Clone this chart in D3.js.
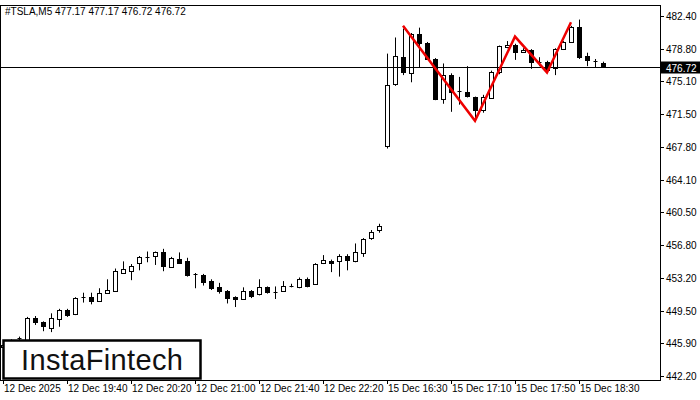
<!DOCTYPE html><html><head><meta charset="utf-8"><script src="https://cdn.jsdelivr.net/npm/d3@7"></script>
<style>body{margin:0;background:#fff}svg{display:block}text{font-family:"Liberation Sans",Arial,sans-serif}</style></head><body><svg id="c" width="700" height="400"></svg>
<script>
const opens =[445.5,445.8,446.3,446.2,448.7,448.2,447.6,448.6,449.6,449.1,450.9,451.0,450.6,451.5,451.7,453.8,453.9,454.8,455.5,455.6,456.0,454.4,455.3,455.0,453.6,453.5,452.8,452.1,451.7,451.0,450.8,451.7,451.3,452.1,451.6,451.7,452.3,452.1,453.0,452.5,454.8,455.0,455.0,455.6,455.0,455.9,457.6,458.4,
467.9,474.8,477.8,476.1,480.4,479.4,477.6,473.1,475.8,474.0,473.9,473.3,472.0,473.3,476.1,479.0,479.2,478.4,478.6,477.3,477.3,476.6,478.7,479.5,481.2,477.9,477.4,477.2];
const closes=[445.7,446.0,446.4,448.7,448.2,447.8,448.7,449.6,449.0,450.9,451.0,450.6,451.5,451.8,453.9,454.2,454.5,455.5,455.5,456.0,454.4,455.4,454.9,453.4,453.5,452.7,452.0,451.6,450.9,450.8,451.7,451.1,452.1,451.5,451.6,452.3,452.3,453.0,452.2,454.7,455.1,454.8,455.6,455.1,456.0,457.5,458.3,458.9,
474.7,477.9,476.1,480.4,479.4,477.6,473.1,475.8,473.9,473.9,473.4,471.9,473.4,476.2,479.0,479.2,478.4,478.6,477.3,477.3,476.4,478.7,479.5,481.2,477.8,477.4,477.3,476.8];
const highs =[445.9,446.3,446.6,448.8,448.9,448.3,449.2,449.7,449.7,451.0,451.5,451.5,452.0,453.0,454.2,455.0,454.7,455.6,456.1,456.1,456.4,455.5,456.0,455.4,453.7,453.6,453.0,452.6,451.8,451.1,452.1,451.8,453.0,452.2,452.2,452.8,452.5,453.2,453.2,454.8,455.7,455.2,455.8,455.8,457.0,457.6,458.5,459.2,
478.2,480.0,481.0,480.5,481.1,479.5,477.7,477.1,476.0,475.6,476.8,473.4,473.6,476.3,479.1,479.6,479.3,478.8,478.7,477.8,477.4,478.8,479.6,481.3,482.0,478.3,477.6,477.3];
const lows  =[445.3,445.5,446.1,446.1,447.9,447.2,447.1,447.7,448.8,449.0,450.4,450.2,450.5,451.4,451.6,453.6,452.9,454.0,454.9,454.6,453.9,454.3,454.8,453.3,452.0,452.3,451.8,451.4,450.3,449.9,450.7,450.9,451.2,451.4,450.8,451.6,452.1,452.0,452.1,452.4,454.7,453.8,453.3,454.0,454.9,455.5,457.4,458.2,
467.6,474.6,475.8,475.0,476.6,477.5,473.0,472.6,471.7,472.5,473.3,471.0,471.6,473.2,475.9,478.8,477.5,478.3,476.5,476.8,476.2,475.8,478.6,479.4,477.6,476.8,476.6,476.6];
const patternIdx=[50,59,64,68,71];
const patternPrice=[481.3,470.7,480.1,476.1,481.7];
const yTicks=["482.40","478.80","475.10","471.50","467.80","464.10","460.50","456.80","453.20","449.50","445.90","442.20"];
const xLabels=["12 Dec 2025","12 Dec 19:40","12 Dec 20:20","12 Dec 21:00","12 Dec 21:40","12 Dec 22:20","15 Dec 16:30","15 Dec 17:10","15 Dec 17:50","15 Dec 18:30"];
const lastPrice=476.72, title="#TSLA,M5  477.17 477.17 476.72 476.72";

const svg=d3.select("#c");
const x=d3.scaleLinear().domain([0,82]).range([3,659]);
const y=d3.scaleLinear().domain([442.2,482.4]).range([376,16]);
const g=svg.append("g");
svg.append("rect").attr("x",0.5).attr("y",5.5).attr("width",660).attr("height",375).attr("fill","none").attr("stroke","#000");
yTicks.forEach((t,i)=>{const yy=16+i*(360/11);
 svg.append("line").attr("x1",660).attr("x2",664).attr("y1",Math.round(yy)+.5).attr("y2",Math.round(yy)+.5).attr("stroke","#000");
 svg.append("text").attr("x",666).attr("y",yy+4).attr("font-size",10).text(t);});
xLabels.forEach((t,i)=>{const xx=x(i*8);
 svg.append("line").attr("x1",Math.round(xx)+.5).attr("x2",Math.round(xx)+.5).attr("y1",380).attr("y2",384).attr("stroke","#000");
 svg.append("text").attr("x",xx+1).attr("y",392).attr("font-size",10).text(t);});
const ly=Math.round(y(lastPrice))+.5;
svg.append("line").attr("x1",0).attr("x2",660).attr("y1",ly).attr("y2",ly).attr("stroke","#000");
opens.forEach((o,i)=>{const c=closes[i],cx=Math.round(x(i))+.5;
 g.append("line").attr("x1",cx).attr("x2",cx).attr("y1",y(highs[i])).attr("y2",y(lows[i])).attr("stroke","#000");
 const t=y(Math.max(o,c)),b=y(Math.min(o,c));
 if(b-t<1) g.append("line").attr("x1",cx-2).attr("x2",cx+2).attr("y1",Math.round(t)+.5).attr("y2",Math.round(t)+.5).attr("stroke","#000");
 else g.append("rect").attr("x",cx-2).attr("y",Math.round(t)+.5).attr("width",4).attr("height",Math.max(1,Math.round(b-t))).attr("fill",c>=o?"#fff":"#000").attr("stroke","#000");});
svg.append("path").attr("d",d3.line().x(d=>x(d[0])).y(d=>y(d[1]))(patternIdx.map((d,i)=>[d,patternPrice[i]]))).attr("fill","none").attr("stroke","#e00").attr("stroke-width",2.5);
svg.append("rect").attr("x",660).attr("y",ly-6).attr("width",40).attr("height",12).attr("fill","#000");
svg.append("text").attr("x",666).attr("y",ly+4).attr("font-size",10).attr("fill","#fff").text(lastPrice.toFixed(2));
svg.append("text").attr("x",5).attr("y",15).attr("font-size",10).text(title);
svg.append("rect").attr("x",3.5).attr("y",340.5).attr("width",197).attr("height",38).attr("fill","#fff").attr("stroke","#000").attr("stroke-width",2.5);
svg.append("text").attr("x",21).attr("y",370).attr("font-size",29).attr("font-weight",500).attr("font-family","Roboto, sans-serif").attr("fill","#111").attr("textLength",162).text("InstaFintech");
</script></body></html>
